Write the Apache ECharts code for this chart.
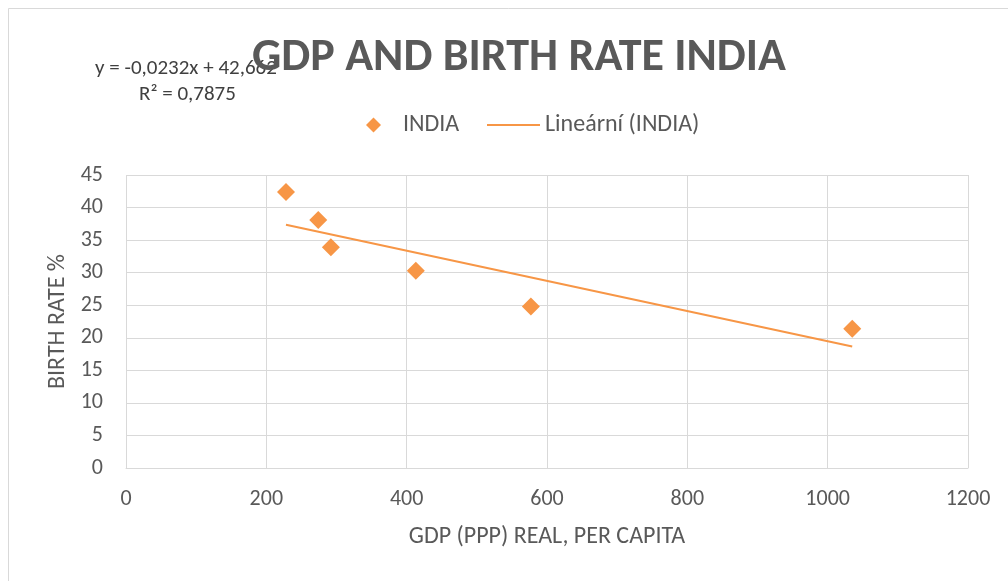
<!DOCTYPE html>
<html>
<head>
<meta charset="utf-8">
<script src="https://cdn.jsdelivr.net/npm/echarts@6/dist/echarts.min.js"></script>
<style>
  html, body { margin: 0; padding: 0; background: #fff; }
  #chart { width: 1008px; height: 581px; }
</style>
</head>
<body>
<div id="chart"></div>
<script>
// GDP per capita (x) and birth rate (y), India
var gdp = [228, 274, 292, 413, 577, 1035];
var birthRate = [42.4, 38.1, 33.9, 30.3, 24.8, 21.4];
// Excel linear trendline coefficients
var slope = -0.0232;
var intercept = 42.662;
var rSquared = '0,7875';
var xTicks = [0, 200, 400, 600, 800, 1000, 1200];

var points = gdp.map(function (x, i) { return [x, birthRate[i]]; });
var xMin = Math.min.apply(null, gdp);
var xMax = Math.max.apply(null, gdp);
var trend = [[xMin, slope * xMin + intercept], [xMax, slope * xMax + intercept]];

var orange = '#F79646';
var textGray = '#595959';
var fontName = 'Carlito, "Noto Sans", sans-serif';

var myChart = echarts.init(document.getElementById('chart'));
var option = {
  backgroundColor: '#fff',
  animation: false,
  title: {
    text: 'GDP AND BIRTH RATE INDIA',
    left: 514,
    textAlign: 'center',
    top: 30,
    textStyle: { color: textGray, fontSize: 46, fontWeight: 'bold', fontFamily: fontName }
  },
  legend: [{
    data: ['INDIA'],
    left: 361,
    top: 108,
    itemWidth: 15,
    itemHeight: 15,
    textStyle: { color: textGray, fontSize: 24, fontFamily: fontName, padding: [0, 0, 0, 17] }
  }, {
    data: [{ name: 'Lineární (INDIA)', icon: 'path://M0,0 L53,0 L53,2 L0,2 Z' }],
    left: 482,
    top: 108,
    itemWidth: 53,
    itemHeight: 2,
    textStyle: { color: textGray, fontSize: 24, fontFamily: fontName }
  }],
  grid: { left: 126, right: 40, top: 175, bottom: 113 },
  xAxis: {
    type: 'value',
    min: 0,
    max: 1200,
    interval: 200,
    name: 'GDP (PPP) REAL, PER CAPITA',
    nameLocation: 'middle',
    nameGap: 57,
    nameTextStyle: { color: textGray, fontSize: 24, fontFamily: fontName },
    axisLine: { show: true, lineStyle: { color: '#d9d9d9' } },
    axisTick: { show: false },
    axisLabel: { color: textGray, fontSize: 22, margin: 20, fontFamily: fontName,
      formatter: function (v) { return xTicks.indexOf(v) >= 0 ? String(v) : ''; } },
    splitLine: { lineStyle: { color: '#d9d9d9', width: 1 } }
  },
  yAxis: {
    type: 'value',
    min: 0,
    max: 45,
    interval: 5,
    name: 'BIRTH RATE %',
    nameLocation: 'middle',
    nameGap: 56,
    nameTextStyle: { color: textGray, fontSize: 24, fontFamily: fontName },
    axisLine: { show: false },
    axisTick: { show: false },
    axisLabel: { color: textGray, fontSize: 22, margin: 23, fontFamily: fontName },
    splitLine: { lineStyle: { color: '#d9d9d9', width: 1 } }
  },
  series: [{
    name: 'INDIA',
    type: 'scatter',
    symbol: 'diamond',
    symbolSize: 18,
    itemStyle: { color: orange, opacity: 1 },
    data: points
  }, {
    name: 'Lineární (INDIA)',
    type: 'line',
    symbol: 'none',
    lineStyle: { color: orange, width: 2 },
    itemStyle: { color: orange },
    data: trend
  }],
  graphic: [{
    type: 'text',
    left: 95,
    top: 58,
    z: 1,
    style: { text: 'y = -0,0232x + 42,662', fill: '#404040', fontSize: 21, fontFamily: fontName }
  }, {
    type: 'text',
    left: 139,
    top: 84,
    z: 1,
    style: { text: 'R² = ' + rSquared, fill: '#404040', fontSize: 21, fontFamily: fontName }
  }, {
    type: 'rect',
    shape: { x: 8.5, y: 8.5, width: 1010, height: 580 },
    style: { fill: 'none', stroke: '#d9d9d9', lineWidth: 1 },
    silent: true
  }]
};
myChart.setOption(option);
</script>
</body>
</html>
